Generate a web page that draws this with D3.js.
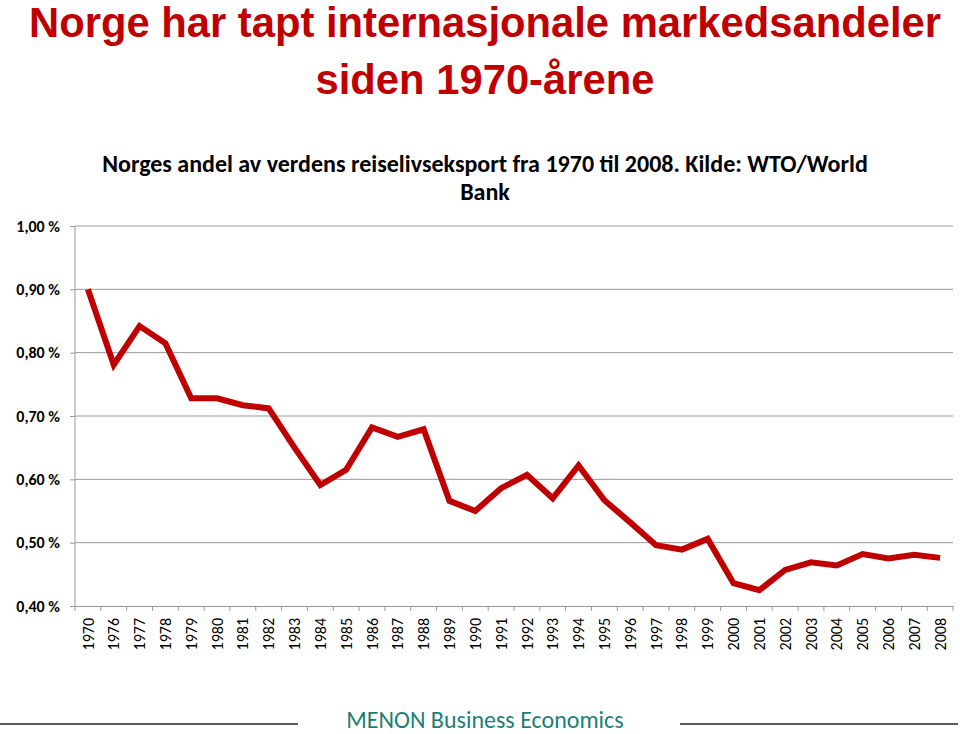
<!DOCTYPE html>
<html lang="no">
<head>
  <meta charset="UTF-8">
  <title>Norges andel av verdens reiselivseksport</title>
  <script src="https://d3js.org/d3.v7.min.js"></script>
  <style>
    body { margin: 0; background: #fff; }
    .title { font-family: "Liberation Sans", Arial, sans-serif; font-weight: bold; fill: #c00000; }
    .sub { font-family: Carlito, "Liberation Sans", sans-serif; font-weight: bold; fill: #000; }
    .axis text { font-family: Carlito, "Liberation Sans", sans-serif; fill: #000; }
  </style>
</head>
<body>
  <svg id="chart" width="960" height="734"></svg>

  <script>
    const years = ["1970", "1976", "1977", "1978", "1979", "1980", "1981", "1982", "1983", "1984",
      "1985", "1986", "1987", "1988", "1989", "1990", "1991", "1992", "1993", "1994", "1995",
      "1996", "1997", "1998", "1999", "2000", "2001", "2002", "2003", "2004", "2005", "2006",
      "2007", "2008"];
    // andel i prosent
    const share = [0.900, 0.781, 0.842, 0.815, 0.728, 0.728, 0.717, 0.712, 0.650, 0.591,
      0.615, 0.682, 0.667, 0.679, 0.566, 0.550, 0.586, 0.607, 0.570, 0.622, 0.567,
      0.532, 0.496, 0.489, 0.506, 0.436, 0.425, 0.457, 0.469, 0.464, 0.482, 0.475,
      0.481, 0.476];
    const yTicks = [0.4, 0.5, 0.6, 0.7, 0.8, 0.9, 1.0];

    const margin = { top: 226, right: 7, bottom: 128, left: 75 };
    const width = 960, height = 734;
    const svg = d3.select("#chart");

    const x = d3.scaleBand().domain(years).range([margin.left, width - margin.right]);
    const y = d3.scaleLinear().domain([0.4, 1.0]).range([height - margin.bottom, margin.top]);

    // tittel (smal skrift, presses sammen)
    svg.append("text").attr("class", "title")
      .attr("x", 485).attr("y", 37).attr("text-anchor", "middle").attr("font-size", 42)
      .attr("textLength", 912).attr("lengthAdjust", "spacingAndGlyphs")
      .text("Norge har tapt internasjonale markedsandeler");
    svg.append("text").attr("class", "title")
      .attr("x", 485).attr("y", 94).attr("text-anchor", "middle").attr("font-size", 42)
      .attr("textLength", 339).attr("lengthAdjust", "spacingAndGlyphs")
      .text("siden 1970-årene");

    svg.append("text").attr("class", "sub")
      .attr("x", 485).attr("y", 172).attr("text-anchor", "middle").attr("font-size", 24)
      .text("Norges andel av verdens reiselivseksport fra 1970 til 2008. Kilde: WTO/World");
    svg.append("text").attr("class", "sub")
      .attr("x", 485).attr("y", 200).attr("text-anchor", "middle").attr("font-size", 24)
      .text("Bank");

    // rutenett
    svg.append("g")
      .selectAll("line")
      .data(yTicks.slice(1))
      .join("line")
      .attr("x1", margin.left).attr("x2", width - margin.right)
      .attr("y1", d => y(d)).attr("y2", d => y(d))
      .attr("stroke", "#999").attr("stroke-width", 1);

    const fmt = d => d.toFixed(2).replace(".", ",") + " %";

    const yAxis = svg.append("g").attr("class", "axis")
      .attr("transform", `translate(${margin.left},0)`)
      .call(d3.axisLeft(y).tickValues(yTicks).tickFormat(fmt).tickSize(5).tickPadding(10));
    yAxis.selectAll("path, line").attr("stroke", "#999");
    yAxis.select(".domain").attr("d", `M0,${y(0.4)}V${y(1.0)}`);
    yAxis.selectAll("text").attr("font-size", 16).attr("font-weight", "bold");

    const xAxis = svg.append("g").attr("class", "axis")
      .attr("transform", `translate(0,${y(0.4)})`)
      .call(d3.axisBottom(x).tickSize(0));
    xAxis.select(".domain").attr("stroke", "#999");
    // tick marks between categories
    xAxis.selectAll(".sep")
      .data(years.concat(["end"]))
      .join("line")
      .attr("class", "sep")
      .attr("x1", (d, i) => margin.left + i * x.step())
      .attr("x2", (d, i) => margin.left + i * x.step())
      .attr("y1", 0).attr("y2", 5)
      .attr("stroke", "#999");
    xAxis.selectAll(".tick text")
      .attr("font-size", 16)
      .attr("transform", "rotate(-90)")
      .attr("text-anchor", "end")
      .attr("x", -12).attr("y", 0).attr("dy", "0.35em");

    // linje
    const line = d3.line()
      .x((d, i) => x(years[i]) + x.bandwidth() / 2)
      .y(d => y(d));
    svg.append("path")
      .datum(share)
      .attr("d", line)
      .attr("fill", "none")
      .attr("stroke", "#c00000")
      .attr("stroke-width", 6)
      .attr("stroke-linejoin", "miter");

    // bunntekst
    svg.append("line").attr("x1", 0).attr("x2", 298).attr("y1", 724).attr("y2", 724)
      .attr("stroke", "#222").attr("stroke-width", 1.5);
    svg.append("line").attr("x1", 680).attr("x2", 958).attr("y1", 724).attr("y2", 724)
      .attr("stroke", "#222").attr("stroke-width", 1.5);
    svg.append("text")
      .attr("x", 485).attr("y", 728).attr("text-anchor", "middle")
      .attr("font-family", "Carlito, 'Open Sans', sans-serif").attr("font-size", 24)
      .attr("fill", "#1b7f78")
      .text("MENON Business Economics");
  </script>
</body>
</html>
